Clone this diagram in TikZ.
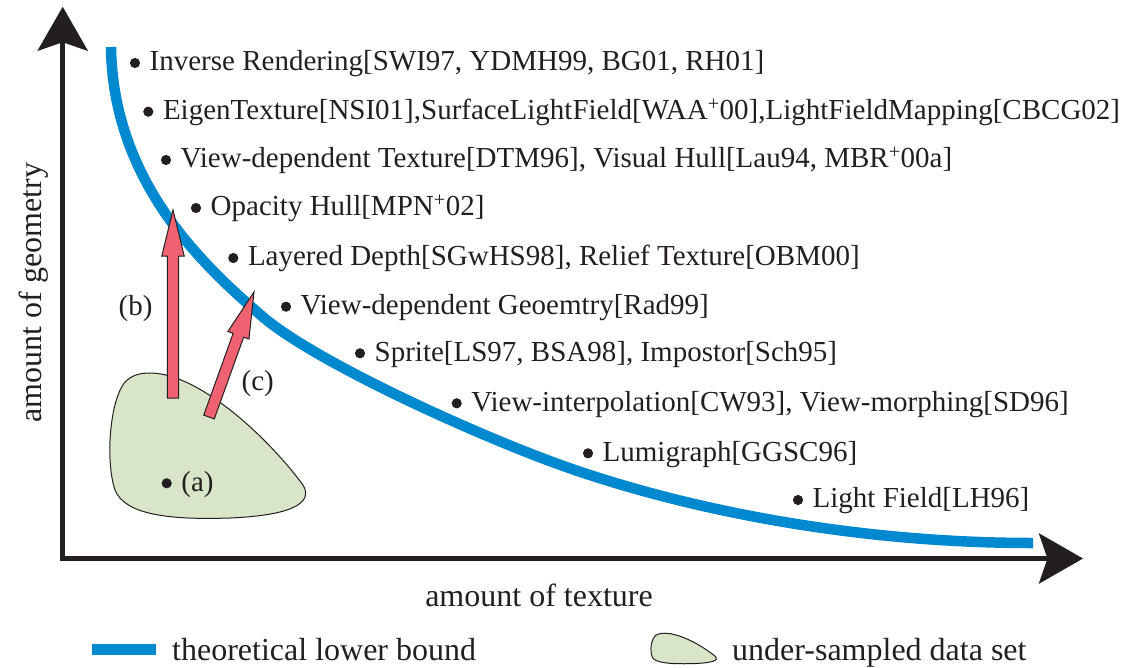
\documentclass[tikz,border=0pt]{standalone}
\usepackage{fontspec}
\setmainfont{Liberation Serif}
\usetikzlibrary{arrows.meta,calc}
\definecolor{curveblue}{RGB}{0,137,207}
\definecolor{arrowred}{RGB}{238,98,114}
\definecolor{blobgreen}{RGB}{217,229,200}
\definecolor{inkblack}{RGB}{35,31,32}
\newcommand\myfatarrow[2]{%
  \path ($(#2)!46pt!(#1)$) coordinate (hb);
  \draw[fatarrowstyle] ($(#1)!5.6pt!90:(#2)$) -- ($(hb)!5.6pt!90:(#2)$) -- ($(hb)!11.2pt!90:(#2)$) -- (#2)
    -- ($(hb)!11.2pt!-90:(#2)$) -- ($(hb)!5.6pt!-90:(#2)$) -- ($(#1)!5.6pt!-90:(#2)$) -- cycle;}
\newcommand\myblobpath{(150,373) .. controls (200,373) and (270,440) .. (303,485)
  .. controls (312,500) and (300,515) .. (230,518)
  .. controls (170,520) and (125,515) .. (115,490)
  .. controls (105,460) and (110,400) .. (125,382)
  .. controls (132,375) and (140,373) .. (150,373) -- cycle}
% bullet item: name, bullet x, bullet y, text
\newcommand\myitem[4]{%
  \fill[bulletdot] (#2,#3) circle[radius=5.1pt];
  \node[itemtext] (#1) at ({#2+14.5},{#3+7.7}) {#4};}
\tikzset{
  bulletdot/.style={fill=inkblack},
  itemtext/.style={anchor=base west, inner sep=0pt, text=inkblack, font=\fontsize{29}{34}\selectfont},
  labeltext/.style={anchor=base, inner sep=0pt, text=inkblack, font=\fontsize{32}{38}\selectfont},
  smalllabel/.style={anchor=base, inner sep=0pt, text=inkblack, font=\fontsize{29}{34}\selectfont},
  axisline/.style={draw=inkblack, line width=5pt, line join=miter,
     {Stealth[length=44pt,width=50pt,inset=8.5pt]}-{Stealth[length=44pt,width=50pt,inset=8.5pt]}},
  boundline/.style={draw=curveblue, line width=10.5pt},
  blobstyle/.style={fill=blobgreen, draw=inkblack, line width=1pt},
  fatarrowstyle/.style={fill=arrowred, draw=inkblack, line width=1pt, line join=miter},
}
\begin{document}
\begin{tikzpicture}[x=1pt,y=-1pt]
\useasboundingbox (0,0) rectangle (1127,667);
% axes
\coordinate (ytip) at (62.7,6.7);
\coordinate (origin) at (62.7,558.5);
\coordinate (xtip) at (1083,558.5);
\draw[axisline] (ytip) -- (origin) -- (xtip);
% lower bound curve
\coordinate (cv0) at (111,47);
\coordinate (cv1) at (263,317);
\coordinate (cv2) at (547,460);
\coordinate (cv3) at (1033,543);
\draw[boundline] (cv0) .. controls (113,180) and (200,263) .. (cv1)
  .. controls (313,359.5) and (457,426.2) .. (cv2)
  .. controls (657,501.4) and (833,543) .. (cv3);
% blob
\draw[blobstyle] \myblobpath;
% arrows
\coordinate (bstart) at (173,398);
\coordinate (bend) at (173,210);
\coordinate (cstart) at (209,417);
\coordinate (cend) at (254,292);
\myfatarrow{bstart}{bend}
\myfatarrow{cstart}{cend}
\node[smalllabel] (lb) at (135.5,315) {(b)};
\node[smalllabel] (lc) at (257.7,390.5) {(c)};
\myitem{la}{166.7}{483.3}{(a)}
% items
\myitem{i1}{135}{63}{Inverse Rendering[SWI97, YDMH99, BG01, RH01]}
\myitem{i2}{148.3}{111.7}{EigenTexture[NSI01],SurfaceLightField[WAA\textsuperscript{+}00],LightFieldMapping[CBCG02]}
\myitem{i3}{166}{160}{View-dependent Texture[DTM96], Visual Hull[Lau94, MBR\textsuperscript{+}00a]}
\myitem{i4}{196}{208}{Opacity Hull[MPN\textsuperscript{+}02]}
\myitem{i5}{233.3}{258}{Layered Depth[SGwHS98], Relief Texture[OBM00]}
\myitem{i6}{286}{306.7}{View-dependent Geoemtry[Rad99]}
\myitem{i7}{360}{353.3}{Sprite[LS97, BSA98], Impostor[Sch95]}
\myitem{i8}{456.7}{403.3}{View-interpolation[CW93], View-morphing[SD96]}
\myitem{i9}{588}{453.3}{Lumigraph[GGSC96]}
\myitem{i10}{798}{500}{Light Field[LH96]}
% axis labels
\node[labeltext, rotate=90] (ylab) at (41.7,292.5) {amount of geometry};
\node[labeltext] (xlab) at (539,606) {amount of texture};
% legend
\coordinate (lg1) at (92,649.5);
\coordinate (lg2) at (156,649.5);
\draw[boundline, line width=11pt] (lg1) -- (lg2);
\node[itemtext, font=\fontsize{32}{38}\selectfont] (leg1) at (172,660) {theoretical lower bound};
\begin{scope}[shift={(651,633)}, xscale=0.335, yscale=0.21, shift={(-110,-372)}]
\draw[blobstyle] \myblobpath;
\end{scope}
\node[itemtext, font=\fontsize{32}{38}\selectfont] (leg2) at (732,660) {under-sampled data set};
\end{tikzpicture}
\end{document}
